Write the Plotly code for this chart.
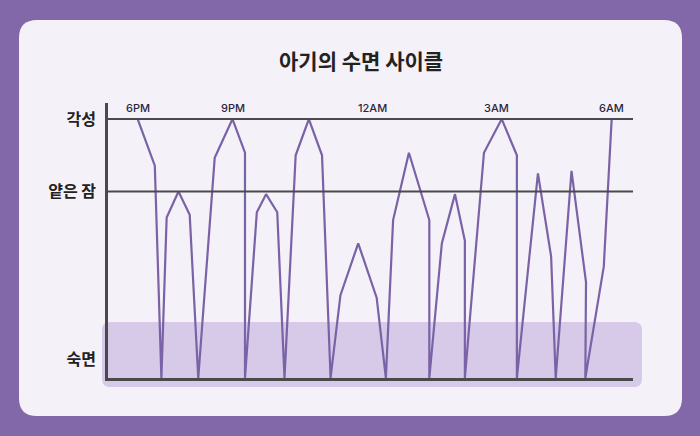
import plotly.graph_objects as go

# sleep cycle: minutes after 6PM and arousal level (100 = awake, 0 = deep sleep floor)
minutes = [0, 26, 36, 44, 62, 79, 92, 117, 144, 163, 163, 181, 195, 212, 223, 240, 260, 280, 293,
           308, 335, 363, 377, 388, 412, 443, 443, 462, 482, 497, 497, 526, 553, 576, 576, 608,
           628, 635, 659, 681, 680, 708, 720]
level = [100, 82, 0, 62, 72, 63, 0, 85, 100, 87, 0, 64, 71, 64, 0, 86, 100, 86, 0,
         32, 52, 31, 0, 61, 87, 61, 0, 52, 71, 53, 0, 87, 100, 86, 0, 79,
         47, 0, 80, 37, 0, 43, 100]

time_ticks = [0, 145, 357, 545, 720]
time_labels = ["6PM", "9PM", "12AM", "3AM", "6AM"]

stage_vals = [100, 72, 7]
stage_labels = ["각성", "얕은 잠", "숙면"]

# figure geometry (pixels)
W, H = 700, 436
L, R, T, B = 108, 67, 103, 58
pw, ph = W - L - R, H - T - B


def px(x):
    return (x - L) / pw


def py(y):
    return (H - B - y) / ph


def rounded_rect(x0, y0, x1, y1, r):
    # rounded rectangle in paper coords from pixel box
    a, b, c, d = px(x0), px(x1), py(y0), py(y1)
    rx, ry = r / pw, r / ph
    return (f"M {a+rx},{c} L {b-rx},{c} Q {b},{c} {b},{c-ry} "
            f"L {b},{d+ry} Q {b},{d} {b-rx},{d} L {a+rx},{d} Q {a},{d} {a},{d+ry} "
            f"L {a},{c-ry} Q {a},{c} {a+rx},{c} Z")


font = "Noto Sans CJK KR, Noto Sans, sans-serif"
purple = "#7A62A6"
axis_col = "#4A4A4A"

fig = go.Figure()
fig.add_trace(go.Scatter(x=minutes, y=level, mode="lines",
                         line=dict(color=purple, width=2.2), hoverinfo="skip",
                         showlegend=False))

shapes = [
    dict(type="path", xref="paper", yref="paper", layer="below",
         path=rounded_rect(19, 20, 682, 416, 18), fillcolor="#F4F2F8", line=dict(width=0)),
    dict(type="path", xref="paper", yref="paper", layer="below",
         path=rounded_rect(102, 322, 642, 387, 8), fillcolor="#D6CAE8", line=dict(width=0)),
]
for v in stage_vals[:2]:
    shapes.append(dict(type="line", xref="paper", yref="y", x0=0, x1=1, y0=v, y1=v,
                       line=dict(color=axis_col, width=2)))

annotations = [dict(text="<b>아기의 수면 사이클</b>", xref="paper", yref="paper",
                    x=px(361), y=py(60), xanchor="center", yanchor="middle", showarrow=False,
                    font=dict(family=font, size=21, color="#222222"))]
for t, lab in zip(time_ticks, time_labels):
    annotations.append(dict(text=lab, xref="x", yref="paper", x=t, y=py(107.5),
                            xanchor="center", yanchor="middle", showarrow=False,
                            font=dict(family="Inter, sans-serif", size=11, color="#2A2540",
                                      weight=500)))

fig.update_layout(
    width=W, height=H,
    margin=dict(l=L, r=R, t=T, b=B),
    paper_bgcolor="#8268A8",
    plot_bgcolor="rgba(0,0,0,0)",
    shapes=shapes,
    annotations=annotations,
    xaxis=dict(range=[-45.1, 752.4], showgrid=False, zeroline=False, showticklabels=False,
               showline=True, linecolor=axis_col, linewidth=2.5, fixedrange=True),
    yaxis=dict(range=[0, 106.2], showgrid=False, zeroline=False, showline=True,
               linecolor=axis_col, linewidth=2.5,
               tickvals=stage_vals, ticktext=["<b>" + s + "</b>" for s in stage_labels],
               tickfont=dict(family=font, size=16, color="#222222"),
               ticks="", ticklabelstandoff=6, fixedrange=True),
)

# drop the default page margin so the figure sits flush in the window
fig.write_html("out.html", config={"displayModeBar": False},
               post_script="document.body.style.margin='0';")
